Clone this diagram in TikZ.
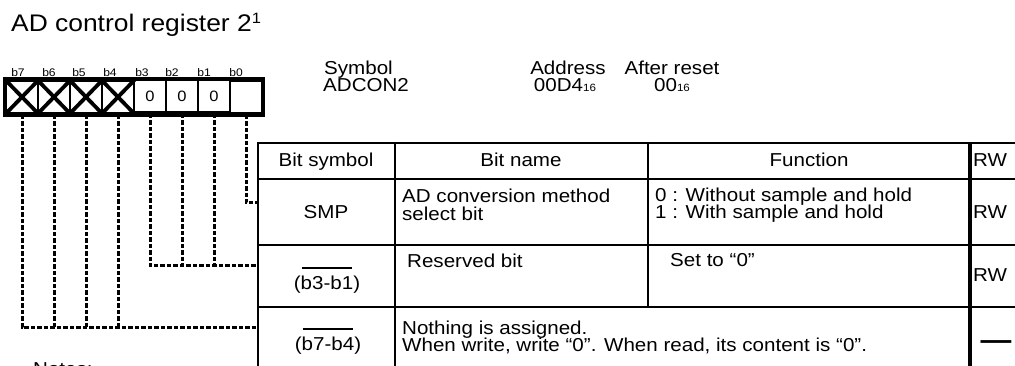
\documentclass[tikz,border=0pt]{standalone}
\usepackage{fontspec}
\setmainfont{Liberation Sans}[FakeStretch=1.1]
\begin{document}
\begin{tikzpicture}[x=1pt,y=-1pt,
  txt/.style={inner sep=0pt,font=\fontsize{18.7}{21}\selectfont},
  blab/.style={inner sep=0pt,anchor=base,font=\fontsize{11}{12}\selectfont},
  cell/.style={draw,line width=2.6pt,minimum width=32pt,minimum height=33pt,inner sep=0pt,font=\fontsize{15}{17}\selectfont},
  xmark/.style={line width=3.8pt},
  conn/.style={line width=3pt,dash pattern=on 4.5pt off 2pt},
  grid/.style={line width=2.6pt},
  ovl/.style={line width=2.4pt}]
\useasboundingbox (0,0) rectangle (1015,366);
% title
\node[txt,anchor=base west,font=\fontsize{24}{27}\selectfont] (title) at (11,32) {AD control register 2\raisebox{8pt}{\fontsize{15}{17}\selectfont 1}};
% bit labels
\node[blab] (l7) at (18,77) {b7};
\node[blab] (l6) at (49,77) {b6};
\node[blab] (l5) at (79,77) {b5};
\node[blab] (l4) at (110,77) {b4};
\node[blab] (l3) at (142,77) {b3};
\node[blab] (l2) at (172,77) {b2};
\node[blab] (l1) at (204,77) {b1};
\node[blab] (l0) at (236,77) {b0};
% register cells
\node[cell] (c7) at (22,97) {};
\node[cell] (c6) at (54,97) {};
\node[cell] (c5) at (86,97) {};
\node[cell] (c4) at (118,97) {};
\node[cell] (c3) at (150,96) {0};
\node[cell] (c2) at (182,96) {0};
\node[cell] (c1) at (214,96) {0};
\node[cell] (c0) at (246,97) {};
\foreach \c in {c7,c6,c5,c4}{
  \draw[xmark] (\c.north west) -- (\c.south east) (\c.north east) -- (\c.south west);}
\draw[line width=4pt] (c7.north west) rectangle (c0.south east);
% header info
\node[txt,anchor=base west] (symh) at (324,75) {Symbol};
\node[txt,anchor=base west] (symv) at (323,92) {ADCON2};
\node[txt,anchor=base] (adrh) at (568,75) {Address};
\node[txt,anchor=base] (adrv) at (565,92) {00D4{\fontsize{10.5}{12}\selectfont 16}};
\node[txt,anchor=base] (rsth) at (672,75) {After reset};
\node[txt,anchor=base] (rstv) at (672,92) {00{\fontsize{10.5}{12}\selectfont 16}};
% table grid
\draw[grid] (258,143) -- (1030,143);
\draw[grid] (258,179) -- (1030,179);
\draw[grid] (258,245) -- (1030,245);
\draw[grid] (258,307) -- (1030,307);
\draw[grid] (258,142) -- (258,380);
\draw[grid] (395,142) -- (395,380);
\draw[grid] (648,142) -- (648,307);
\draw[line width=3.2pt] (970,142) -- (970,380);
% header row
\node[txt,anchor=base] (hsym) at (326,167) {Bit symbol};
\node[txt,anchor=base] (hname) at (521,167) {Bit name};
\node[txt,anchor=base] (hfun) at (809,167) {Function};
\node[txt,anchor=base west] (hrw) at (973,167) {RW};
% SMP row
\node[txt,anchor=base] (smp) at (326,219) {SMP};
\node[txt,anchor=base west] (smpn1) at (402,203) {AD conversion method};
\node[txt,anchor=base west] (smpn2) at (402,221) {select bit};
\node[txt,anchor=base west] (smpf1) at (655,202) {0 : Without sample and hold};
\node[txt,anchor=base west] (smpf2) at (655,219) {1 : With sample and hold};
\node[txt,anchor=base west] (smprw) at (973,219) {RW};
% reserved row
\node[txt,anchor=base] (b31) at (327,289) {(b3-b1)};
\draw[ovl] ([xshift=8pt,yshift=7pt]b31.north west) -- ([xshift=-8pt,yshift=7pt]b31.north east);
\node[txt,anchor=base west] (resn) at (407,268) {Reserved bit};
\node[txt,anchor=base west] (resf) at (670,266) {Set to “0”};
\node[txt,anchor=base west] (resrw) at (973,281) {RW};
% nothing row
\node[txt,anchor=base] (b74) at (328,350) {(b7-b4)};
\draw[ovl] ([xshift=8pt,yshift=7pt]b74.north west) -- ([xshift=-8pt,yshift=7pt]b74.north east);
\node[txt,anchor=base west] (non1) at (402,334) {Nothing is assigned.};
\node[txt,anchor=base west] (non2) at (402,351) {When write, write “0”. When read, its content is “0”.};
\node[txt,anchor=center,font=\fontsize{28}{30}\bfseries\selectfont] (nodash) at (996,345) {—};
% notes
\node[txt,anchor=base west] (notes) at (33,375) {Notes:};
% connectors
\coordinate (in0) at (258,203);
\coordinate (in31) at (258,266);
\coordinate (in74) at (258,327);
\draw[conn] (c0.south) |- (in0);
\draw[conn] (c3.south) |- (in31);
\draw[conn] (c2.south) -- (c2.south |- in31);
\draw[conn] (c1.south) -- (c1.south |- in31);
\draw[conn] (c7.south) |- (in74);
\draw[conn] (c6.south) -- (c6.south |- in74);
\draw[conn] (c5.south) -- (c5.south |- in74);
\draw[conn] (c4.south) -- (c4.south |- in74);
\end{tikzpicture}
\end{document}
